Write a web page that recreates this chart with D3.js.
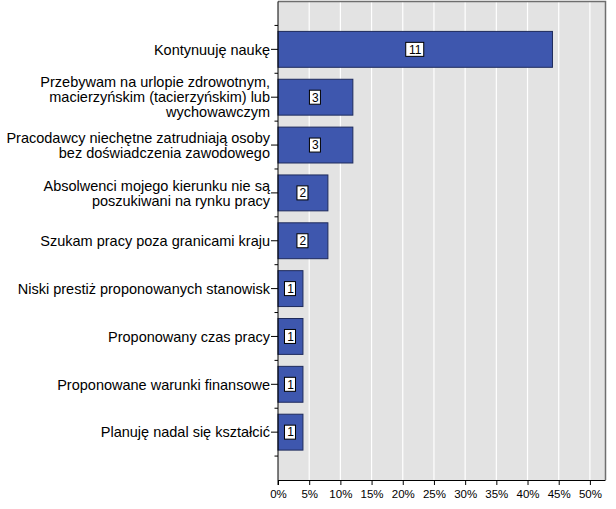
<!DOCTYPE html>
<html>
<head>
<meta charset="utf-8">
<script src="https://cdn.jsdelivr.net/npm/d3@7"></script>
<style>
  body { margin: 0; background: #fff; }
  text { font-family: "Liberation Sans", Arial, sans-serif; fill: #000; }
</style>
</head>
<body>
<svg id="chart" width="616" height="509"></svg>
<script>
// category labels (lines split as in the original)
var categories = [
  ["Kontynuuję naukę"],
  ["Przebywam na urlopie zdrowotnym,", "macierzyńskim (tacierzyńskim) lub", "wychowawczym"],
  ["Pracodawcy niechętne zatrudniają osoby", "bez doświadczenia zawodowego"],
  ["Absolwenci mojego kierunku nie są", "poszukiwani na rynku pracy"],
  ["Szukam pracy poza granicami kraju"],
  ["Niski prestiż proponowanych stanowisk"],
  ["Proponowany czas pracy"],
  ["Proponowane warunki finansowe"],
  ["Planuję nadal się kształcić"]
]
var counts = [11, 3, 3, 2, 2, 1, 1, 1, 1]
var xTicks = [0, 5, 10, 15, 20, 25, 30, 35, 40, 45, 50]

var total = d3.sum(counts)
var data = categories.map((c, i) => ({ id: i, lines: c, count: counts[i], pct: counts[i] / total * 100 }))

var svg = d3.select("#chart")
var pLeft = 278, pRight = 605.5, pTop = 1.5, pBottom = 480

var x = d3.scaleLinear().domain([0, 52.5]).range([pLeft, pRight])
var y = d3.scaleBand()
  .domain(data.map(d => d.id))
  .range([pTop, pBottom])
  .paddingInner(0)
  .paddingOuter(0.5)

// plot background
svg.append("rect")
  .attr("x", pLeft).attr("y", pTop)
  .attr("width", pRight - pLeft).attr("height", pBottom - pTop)
  .attr("fill", "#e3e3e3")

// vertical grid lines
svg.selectAll(".grid")
  .data(xTicks.filter(t => t > 0))
  .join("line")
  .attr("class", "grid")
  .attr("x1", d => x(d)).attr("x2", d => x(d))
  .attr("y1", pTop).attr("y2", pBottom)
  .attr("stroke", "#fff")
  .attr("stroke-width", 1.2)

// frame top/right
svg.append("path")
  .attr("d", `M${pLeft},${pTop}H${pRight}V${pBottom}`)
  .attr("fill", "none")
  .attr("stroke", "#6e6e6e")
  .attr("stroke-width", 1.5)

// bars
var barH = y.step() * 0.75
svg.selectAll(".bar")
  .data(data)
  .join("rect")
  .attr("class", "bar")
  .attr("x", x(0))
  .attr("y", d => y(d.id) + (y.step() - barH) / 2)
  .attr("width", d => x(d.pct) - x(0))
  .attr("height", barH)
  .attr("fill", "#3e57ae")
  .attr("stroke", "#1e2a5c")
  .attr("stroke-width", 1)

// value boxes
var lab = svg.selectAll(".vlab")
  .data(data)
  .join("g")
  .attr("class", "vlab")
  .attr("transform", d => `translate(${(x(0) + x(d.pct)) / 2},${y(d.id) + y.step() / 2})`)
lab.append("rect")
  .attr("x", d => -(String(d.count).length * 7 + 4) / 2 - 0.5)
  .attr("y", -7)
  .attr("width", d => String(d.count).length * 7 + 4)
  .attr("height", 14)
  .attr("fill", "#fff")
  .attr("stroke", "#000")
  .attr("stroke-width", 1)
lab.append("text")
  .attr("text-anchor", "middle")
  .attr("dy", "0.36em")
  .style("font-size", "12px")
  .text(d => d.count)

// x axis
var xAxis = d3.axisBottom(x)
  .tickValues(xTicks)
  .tickSize(5)
  .tickFormat(d => d + "%")
var gx = svg.append("g")
  .attr("transform", `translate(0,${pBottom})`)
  .call(xAxis)
gx.select(".domain").attr("stroke", "#000").attr("d", `M${pLeft},0.5H${pRight}`)
gx.selectAll(".tick line").attr("stroke", "#000")
gx.selectAll(".tick text")
  .attr("dy", "0.9em")
  .style("font-size", "11.5px")
  .style("font-family", "'Liberation Sans', Arial, sans-serif")

// y axis line
svg.append("line")
  .attr("x1", pLeft).attr("x2", pLeft)
  .attr("y1", pTop).attr("y2", pBottom + 5)
  .attr("stroke", "#000")

// minor ticks at band boundaries
var bounds = data.map(d => y(d.id)).concat([y(data[data.length - 1].id) + y.step()])
svg.selectAll(".minor")
  .data(bounds)
  .join("line")
  .attr("class", "minor")
  .attr("x1", pLeft - 3.5).attr("x2", pLeft)
  .attr("y1", d => d).attr("y2", d => d)
  .attr("stroke", "#000")

// category ticks and labels
var cat = svg.selectAll(".cat")
  .data(data)
  .join("g")
  .attr("class", "cat")
  .attr("transform", d => `translate(${pLeft},${y(d.id) + y.step() / 2})`)
cat.append("line")
  .attr("x1", -7).attr("x2", 0)
  .attr("stroke", "#000")
cat.append("text")
  .attr("text-anchor", "end")
  .style("font-size", "14.5px")
  .selectAll("tspan")
  .data(d => d.lines.map((t, i) => ({ t: t, i: i, n: d.lines.length })))
  .join("tspan")
  .attr("x", -8)
  .attr("y", l => (l.i - (l.n - 1) / 2) * 15)
  .attr("dy", "0.36em")
  .text(l => l.t)
</script>
</body>
</html>
